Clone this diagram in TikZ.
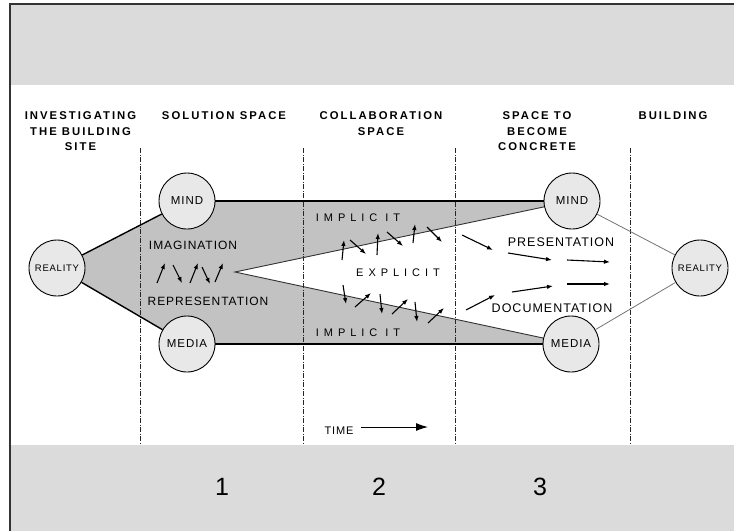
\documentclass[tikz,border=0pt]{standalone}
\usepackage{fontspec}
\setmainfont{Liberation Sans}[LetterSpace=8]
\newfontfamily\headfont{Liberation Sans}[LetterSpace=18]
\newfontfamily\wideletters{Liberation Sans}[LetterSpace=45]
\usetikzlibrary{arrows.meta,backgrounds}
\definecolor{bandgray}{gray}{0.86}
\definecolor{zonegray}{gray}{0.76}
\definecolor{placegray}{gray}{0.91}
\tikzset{
  place/.style={circle,draw,line width=0.9,fill=placegray,minimum size=56,inner sep=0,
    font=\fontsize{11.5}{12}\selectfont},
  phase/.style={align=center,anchor=base,inner sep=0,
    font=\headfont\bfseries\fontsize{11.3}{15.6}\selectfont},
  divider/.style={line width=1,black!85,dash pattern=on 5 off 1.5 on 1 off 1.5},
  flow/.style={-{Latex[length=6,width=4.5]},line width=1.1},
  word/.style={anchor=base,inner sep=0},
}
\begin{document}
\begin{tikzpicture}[x=1pt,y=-1pt]
  \useasboundingbox (0,0) rectangle (734,531);
  % grey bands and frame
  \fill[bandgray] (10,5) rectangle (734,85);
  \fill[bandgray] (10,445) rectangle (734,531);
  \draw[line width=2,black!80] (10,531) -- (10,4) -- (734,4);

  % column heads (base = last line)
  \node[phase] (site) at (80.5,150.8) {INVESTIGATING\\THE BUILDING\\SITE};
  \node[phase] (solution) at (224,119.5) {SOLUTION SPACE};
  \node[phase] (collab) at (381,135.2) {COLLABORATION\\SPACE};
  \node[phase] (concrete) at (537,150.8) {SPACE TO\\BECOME\\CONCRETE};
  \node[phase] (building) at (673,119.5) {BUILDING};

  \foreach \x in {140,303,455,630}
    \draw[divider] (\x,148) -- (\x,443);

  % the places
  \node[place] (realityl) at (57,268) {\fontsize{9.5}{10}\selectfont REALITY};
  \node[place] (mindl) at (187,201) {MIND};
  \node[place] (medial) at (187,344) {MEDIA};
  \node[place] (mindr) at (572,201) {MIND};
  \node[place] (mediar) at (571,344) {MEDIA};
  \node[place] (realityr) at (700,268) {\fontsize{9.5}{10}\selectfont REALITY};
  \coordinate (tip) at (235,272);

  \begin{scope}[on background layer]
    \fill[zonegray] (realityl.center) -- (mindl.center) -- (mindr.center) -- (tip)
      -- (mediar.center) -- (medial.center) -- cycle;
  \end{scope}
  \draw[line width=1.4] (realityl) -- (mindl);
  \draw[line width=1.4] (realityl) -- (medial);
  \draw[line width=1.8] (mindl) -- (mindr);
  \draw[line width=1.8] (medial) -- (mediar);
  \draw[line width=0.9,black!80] (mindr) -- (tip) -- (mediar);
  \draw[line width=0.8,black!55] (mindr) -- (realityr);
  \draw[line width=0.8,black!55] (mediar) -- (realityr);

  % texts
  \node[word,font=\fontsize{12}{12}\selectfont] (imag) at (193,249.5) {IMAGINATION};
  \node[word,font=\fontsize{12}{12}\selectfont] (repr) at (208,305.5) {REPRESENTATION};
  \node[word,font=\wideletters\fontsize{11}{11}\selectfont] (impup) at (358,221) {IMPLIC IT};
  \node[word,font=\wideletters\fontsize{11}{11}\selectfont] (impdown) at (358,336) {IMPLIC IT};
  \node[word,font=\wideletters\fontsize{11}{11}\selectfont] (expl) at (398,276.5) {EXPLICIT};
  \node[word,font=\fontsize{12.5}{12}\selectfont] (pres) at (561,246) {PRESENTATION};
  \node[word,font=\fontsize{12.5}{12}\selectfont] (docu) at (552,312) {DOCUMENTATION};

  % little arrows
  \foreach \x/\y/\dx/\dy in {157/283/8/-20, 173/265/9/18, 190/283/8/-20, 202/267/8/17, 215/282/8/-19,
      342/260/2/-20, 350/240/16/14, 377/255/1/-22, 387/232/16/14, 413/243/2/-19, 427/227/15/15,
      343/285/3/19, 355/307/16/-14, 380/294/2/20, 392/314/16/-15, 415/302/2/20, 428/323/16/-15,
      462/235/31/15, 508/253/44/7, 567/260/43/2, 512/292/41/-6, 567/284/43/0, 466/310/29/-15}
    \draw[flow] (\x,\y) -- ++(\dx,\dy);

  % time
  \node[word,font=\fontsize{11}{11}\selectfont] (time) at (339,434) {TIME};
  \coordinate (tstart) at (361,427);
  \coordinate (tend) at (428,427);
  \draw[-{Latex[length=12,width=8]},line width=1] (tstart) -- (tend);

  % phase numbers
  \node[word,font=\fontsize{25}{25}\selectfont] (one) at (222,495) {1};
  \node[word,font=\fontsize{25}{25}\selectfont] (two) at (379,495) {2};
  \node[word,font=\fontsize{25}{25}\selectfont] (three) at (540,495) {3};
\end{tikzpicture}
\end{document}
